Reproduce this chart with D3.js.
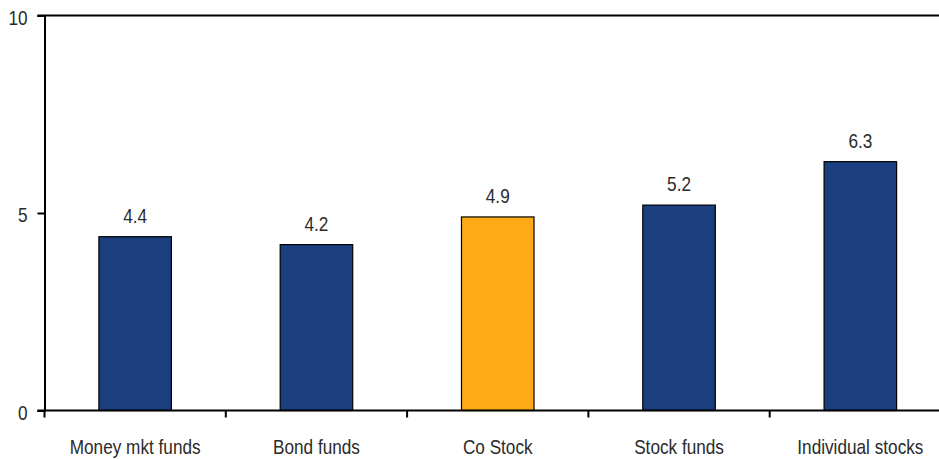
<!DOCTYPE html>
<html>
<head>
<meta charset="utf-8">
<script src="https://cdn.jsdelivr.net/npm/d3@7"></script>
<style>
  html, body { margin: 0; padding: 0; background: #fff; overflow: hidden; }
  svg { display: block; }
  text { font-family: "Liberation Sans Narrow", "Arial Narrow", "Liberation Sans", Arial, sans-serif; fill: #2a2a2a; }
</style>
</head>
<body>
<svg id="chart" width="939" height="459"></svg>
<script>
const categories = ["Money mkt funds", "Bond funds", "Co Stock", "Stock funds", "Individual stocks"];
const values = [4.4, 4.2, 4.9, 5.2, 6.3];
const highlight = ["Co Stock"];
const yTicks = [0, 5, 10];

const svg = d3.select("#chart");
const margin = { left: 44.5, right: -12, top: 15.5, bottom: 48.5 };
const W = 939, H = 459;
const FONT_SIZE = 20;
const SQUEEZE = 0.86; // horizontal condensing of label glyphs

const x = d3.scaleBand()
  .domain(categories)
  .range([margin.left, W - margin.right])
  .paddingInner(0.6)
  .paddingOuter(0.3);

const y = d3.scaleLinear().domain([0, 10]).range([H - margin.bottom, margin.top]);

// condensed text helper
function label(sel, px, py, anchor) {
  return sel.attr("transform", `translate(${px},${py}) scale(${SQUEEZE},1)`)
    .attr("text-anchor", anchor)
    .attr("font-size", FONT_SIZE);
}

// bars
svg.append("g").selectAll("rect")
  .data(categories)
  .join("rect")
  .attr("x", d => x(d))
  .attr("width", x.bandwidth())
  .attr("y", (d, i) => y(values[i]))
  .attr("height", (d, i) => y(0) - y(values[i]))
  .attr("fill", d => highlight.includes(d) ? "#FEAA16" : "#1B3F7E")
  .attr("stroke", "#000")
  .attr("stroke-width", 1.2);

// value labels
svg.append("g").selectAll("text")
  .data(categories)
  .join("text")
  .each(function (d, i) {
    label(d3.select(this), x(d) + x.bandwidth() / 2, y(values[i]) - 14, "middle");
  })
  .text((d, i) => values[i].toFixed(1));

// top frame line at the maximum
svg.append("line")
  .attr("x1", margin.left - 7).attr("x2", W)
  .attr("y1", y(10)).attr("y2", y(10))
  .attr("stroke", "#000").attr("stroke-width", 2);

// y axis
const yAxis = d3.axisLeft(y).tickValues(yTicks).tickSize(7).tickFormat(() => "");
const gy = svg.append("g").attr("transform", `translate(${margin.left},0)`).call(yAxis);
gy.select(".domain").attr("stroke", "#000").attr("stroke-width", 2);
gy.selectAll(".tick line").attr("stroke", "#000").attr("stroke-width", 2);
svg.append("g").selectAll("text")
  .data(yTicks)
  .join("text")
  .each(function (d) {
    label(d3.select(this), margin.left - 17, y(d) + 9, "end");
  })
  .text(d => d3.format("d")(d));

// x axis: baseline with ticks between categories
const bounds = d3.range(categories.length + 1)
  .map(i => margin.left + i * (W - margin.right - margin.left) / categories.length);
svg.append("line")
  .attr("x1", margin.left - 7).attr("x2", W)
  .attr("y1", y(0)).attr("y2", y(0))
  .attr("stroke", "#000").attr("stroke-width", 2);
svg.append("g").selectAll("line")
  .data(bounds)
  .join("line")
  .attr("x1", d => d).attr("x2", d => d)
  .attr("y1", y(0)).attr("y2", y(0) + 7)
  .attr("stroke", "#000").attr("stroke-width", 2);

svg.append("g").selectAll("text")
  .data(categories)
  .join("text")
  .each(function (d) {
    label(d3.select(this), x(d) + x.bandwidth() / 2, y(0) + 43, "middle");
  })
  .text(d => d);
</script>
</body>
</html>
